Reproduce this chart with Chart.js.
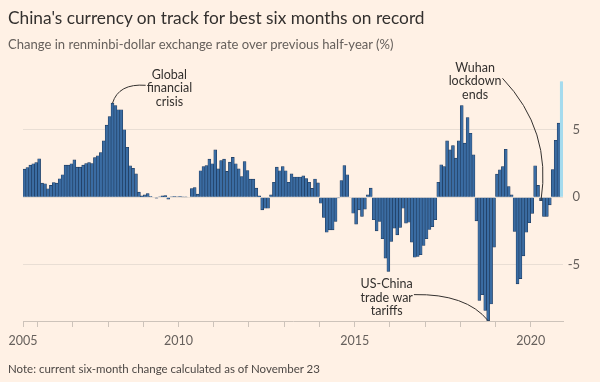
<!DOCTYPE html>
<html><head><meta charset="utf-8">
<script src="https://cdn.jsdelivr.net/npm/chart.js@4.4.0/dist/chart.umd.min.js"></script>
<style>
html,body{margin:0;padding:0;background:#fff1e5;}
#wrap{position:relative;width:600px;height:382px;overflow:hidden;background:#fff1e5;font-family:Lato,"Open Sans",sans-serif;}
#c{position:absolute;left:0;top:0;}
.t{position:absolute;left:8px;white-space:nowrap;line-height:1.2;}
#title{top:8px;font-size:17px;color:#33302e;}
#sub{top:37px;font-size:13px;color:#66605c;}
#note{top:362px;font-size:12px;color:#4d4845;}
</style></head><body>
<div id="wrap">
<canvas id="c" width="600" height="382"></canvas>
<div class="t" id="title">China's currency on track for best six months on record</div>
<div class="t" id="sub">Change in renminbi-dollar exchange rate over previous half-year (%)</div>
<div class="t" id="note">Note: current six-month change calculated as of November 23</div>
</div>
<script>
// ---- data: monthly six-month % change, starting Aug 2005 ----
const startYear = 2005, startMonth = 8;
const chg2005 = [2.08, 2.2, 2.38, 2.48, 2.57];
const chg2006 = [2.85, 1.04, 0.99, 0.62, 0.87, 1.09, 1.04, 1.36, 1.66, 2.38, 2.38, 2.48];
const chg2007 = [2.77, 2.23, 2.23, 2.38, 2.5, 2.57, 2.5, 2.94, 3.07, 3.32, 4.18, 5.35];
const chg2008 = [5.99, 6.98, 6.81, 6.49, 6.49, 5.0, 3.71, 2.33, 2.15, 1.73, 0.37, 0.1];
const chg2009 = [0.17, 0.27, 0.05, 0.0, -0.08, 0.03, 0.1, 0.12, -0.15, 0.03, 0.05, 0.03];
const chg2010 = [0.05, 0.02, 0.02, 0.0, 0.64, 0.72, 0.22, 1.96, 2.28, 2.35, 2.82, 2.48];
const chg2011 = [3.51, 2.1, 2.72, 2.82, 1.91, 2.6, 2.95, 2.48, 2.1, 1.53, 2.65, 1.98];
const chg2012 = [1.34, 1.34, 0.67, 0.1, -0.94, -0.82, -0.82, 0.17, 1.11, 2.23, 1.96, 2.28];
const chg2013 = [1.96, 1.11, 1.73, 1.49, 1.49, 1.49, 1.58, 1.38, 1.11, 0.65, 1.35, 1.06];
const chg2014 = [-0.45, -1.51, -2.6, -2.43, -2.43, -1.81, -0.05, 1.24, 2.35, 1.66, 0.0, -1.19];
const chg2015 = [-2.0, -0.94, -1.44, -0.89, 0.17, 0.67, -1.68, -2.5, -1.81, -3.09, -4.53, -5.52];
const chg2016 = [-3.29, -2.3, -2.8, -2.25, -0.82, -1.93, -1.86, -3.34, -4.46, -4.41, -4.28, -3.59];
const chg2017 = [-3.09, -2.4, -2.2, -1.68, 1.11, 2.4, 2.28, 4.18, 3.51, 3.84, 2.9, 4.18];
const chg2018 = [6.81, 4.01, 5.92, 4.75, 3.14, -1.76, -7.67, -7.25, -8.42, -9.18, -7.94, -3.71];
const chg2019 = [1.71, 2.03, 2.28, 3.56, 0.79, 0.17, -2.55, -6.44, -6.05, -4.36, -2.6, -1.9];
const chg2020 = [-1.2, 2.33, 0.87, -0.27, -1.44, -1.44, -0.57, 2.05, 4.22, 5.5, 8.59];

const yTickValues = [-5, 0, 5];
const xTickYears = [2006,2007,2008,2009,2010,2011,2012,2013,2014,2015,2016,2017,2018,2019,2020];
const xTickLabels = ["2005","2010","2015","2020"];

const annotations = [
  {lines:["Global","financial","crisis"], textYear:2009.74, textValue:9.09, anchorIndex:30},
  {lines:["Wuhan","lockdown","ends"], textYear:2018.42, textValue:9.61, anchorIndex:176},
  {lines:["US-China","trade war","tariffs"], textYear:2015.91, textValue:-6.46, anchorIndex:158}
];

// ---- build ----
const values = [].concat(chg2005,chg2006,chg2007,chg2008,chg2009,chg2010,chg2011,chg2012,chg2013,chg2014,chg2015,chg2016,chg2017,chg2018,chg2019,chg2020);
const N = values.length;
const labels = values.map((v,i)=>{const m=startMonth-1+i;return (startYear+Math.floor(m/12))+'-'+String(m%12+1).padStart(2,'0');});
const xStart = startYear + (startMonth-1)/12;
const xEnd = xStart + N/12;

const FONT = 'Lato, "Open Sans", sans-serif';
const BLUE = '#3a6ca3', EDGE = '#1c3657', LIGHT = '#a5dbee';
const TXT = '#33302e', GREY = '#66605c';

function fit(id, target){
  const el=document.getElementById(id);
  const w=el.getBoundingClientRect().width;
  const fs=parseFloat(getComputedStyle(el).fontSize);
  el.style.fontSize=(fs*target/w).toFixed(2)+'px';
}
fit('title',417); fit('sub',386); fit('note',312);

const annotPlugin = {
  id:'annot',
  afterDatasetsDraw(chart){
    const ctx=chart.ctx, xs=chart.scales.x, x2=chart.scales.x2, ys=chart.scales.y;
    ctx.save();
    ctx.font='12.5px '+FONT;
    ctx.fillStyle=TXT; ctx.strokeStyle=TXT; ctx.lineWidth=1;
    ctx.textAlign='center'; ctx.textBaseline='middle';
    const LH=13.5;
    annotations.forEach((a,k)=>{
      const cx=x2.getPixelForValue(a.textYear), cy=ys.getPixelForValue(a.textValue);
      a.lines.forEach((t,j)=>ctx.fillText(t,cx,cy+j*LH));
      const ax=xs.getPixelForValue(a.anchorIndex), ay=ys.getPixelForValue(values[a.anchorIndex]);
      const w1=ctx.measureText(a.lines[1]).width;
      let sx,sy,qx,qy;
      const ly=cy+LH;
      if(k===0){ sx=cx-w1/2-1; sy=ly-3; qx=ax+6; qy=sy-2; }
      else if(k===1){ sx=cx+w1/2+1; sy=ly-3; qx=ax+11; qy=sy+52; }
      else { sx=cx+w1/2+1; sy=ly-3; qx=ax-22; qy=sy-1; }
      ctx.beginPath(); ctx.moveTo(sx,sy); ctx.quadraticCurveTo(qx,qy,ax,ay); ctx.stroke();
    });
    ctx.restore();
  }
};

new Chart(document.getElementById('c').getContext('2d'), {
  type:'bar',
  data:{labels, datasets:[{
    data:values,
    backgroundColor: values.map((v,i)=> i===N-1 ? LIGHT : BLUE),
    borderColor: values.map((v,i)=> i===N-1 ? LIGHT : EDGE),
    borderWidth:0.6, barPercentage:1, categoryPercentage:1,
    xAxisID:'x', yAxisID:'y'
  }]},
  options:{
    responsive:false, animation:false, devicePixelRatio:1,
    layout:{padding:{left:23, right:20, top:76, bottom:31}},
    plugins:{legend:{display:false}, tooltip:{enabled:false}, title:{display:false}},
    scales:{
      x:{type:'category', display:false, offset:true, grid:{display:false}},
      x2:{type:'linear', position:'bottom', min:xStart, max:xEnd, offset:false, bounds:'ticks',
        afterBuildTicks:s=>{ s.ticks=[xStart].concat(xTickYears).map(v=>({value:v})); },
        afterFit:s=>{ s.height=30; },
        ticks:{autoSkip:false, maxRotation:0, padding:6, color:GREY, font:{size:12.5, family:FONT},
          callback:(v)=>{ if(Math.abs(v-xStart)<1e-6) return xTickLabels[0]; const s=String(Math.round(v)); return xTickLabels.indexOf(s)>0 ? s : ''; }},
        grid:{offset:false, drawOnChartArea:false, drawTicks:true, tickLength:6, color:'#cdc3ba'},
        border:{display:true, color:'#cdc3ba'}
      },
      y:{position:'right', min:-9.2, max:9,
        afterBuildTicks:s=>{ s.ticks=yTickValues.map(v=>({value:v})); },
        afterFit:s=>{ s.width=17; },
        ticks:{crossAlign:'far', padding:3, color:GREY, font:{size:13, family:FONT},
          callback:(v)=> v<0 ? '-'+Math.abs(v) : String(v)},
        grid:{color:'#e9ded4', drawTicks:false},
        border:{display:false}
      }
    }
  },
  plugins:[annotPlugin]
});
</script>
</body></html>
